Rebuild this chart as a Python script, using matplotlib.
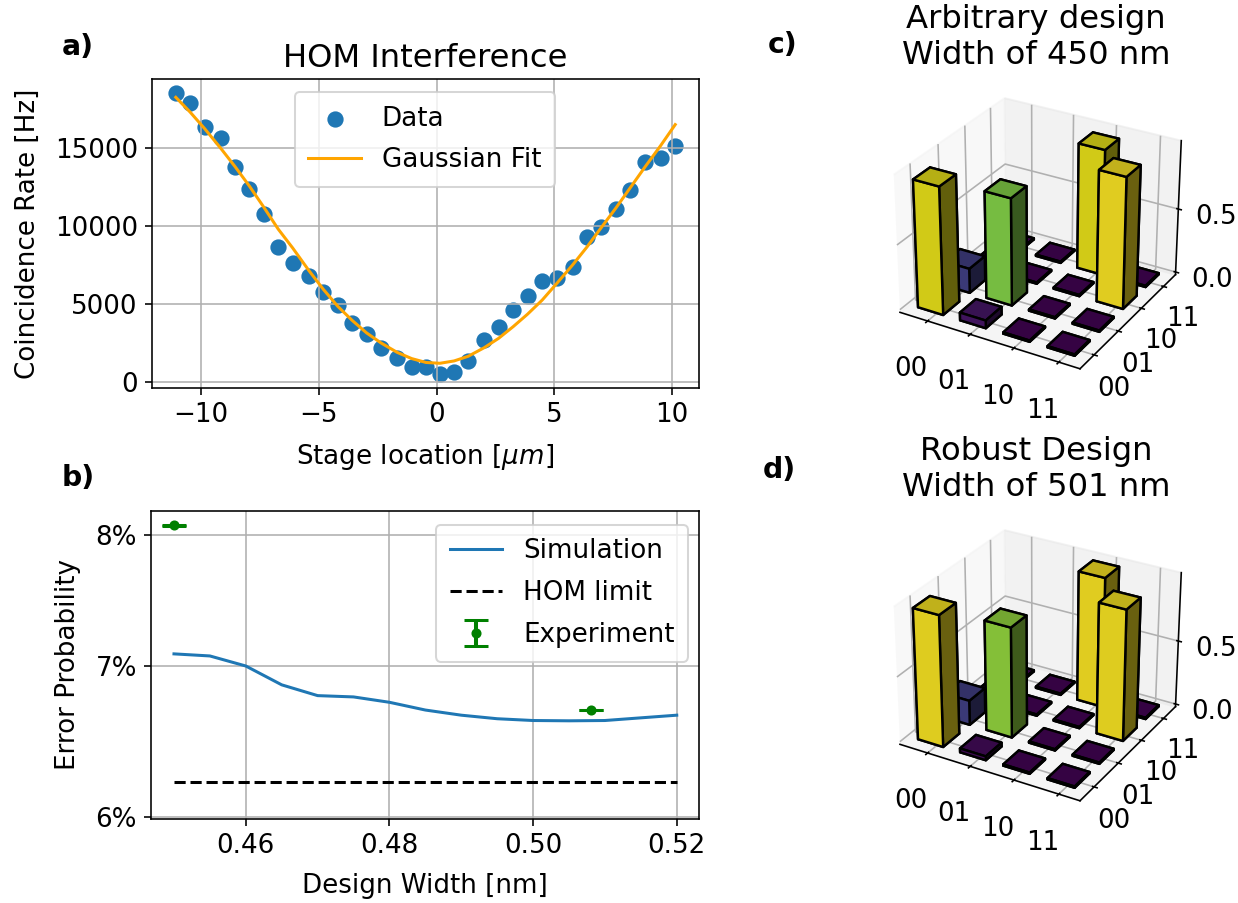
import numpy as np
import matplotlib
matplotlib.use('Agg')
import matplotlib.pyplot as plt

# HOM scan: stage location, measured rate and the fit through it
stage = [-11.08, -10.47, -9.86, -9.18, -8.56, -7.95, -7.34, -6.73, -6.12, -5.43, -4.82, -4.2,
         -3.59, -2.98, -2.36, -1.68, -1.06, -0.45, 0.14, 0.74, 1.34, 2.02, 2.63, 3.25, 3.86,
         4.48, 5.09, 5.77, 6.38, 6.99, 7.61, 8.22, 8.83, 9.51, 10.13]
rate = [18504, 17906, 16367, 15620, 13782, 12350, 10790, 8632, 7607, 6773, 5769, 4936,
        3782, 3077, 2158, 1538, 940, 940, 513, 620, 1325, 2692, 3504, 4615, 5534,
        6496, 6688, 7372, 9273, 9957, 11090, 12329, 14081, 14380, 15107]
fit = [18250, 17300, 16250, 15000, 13800, 12550, 11200, 9800, 8600, 7150, 5950, 4850,
       3950, 3150, 2500, 1900, 1500, 1250, 1200, 1350, 1650, 2200, 2800, 3550, 4350,
       5250, 6300, 7500, 8650, 9900, 11150, 12450, 13750, 15150, 16500]

# Error probability against design width
width = [0.45, 0.455, 0.46, 0.465, 0.47, 0.475, 0.48, 0.485, 0.49, 0.495, 0.50, 0.505, 0.51, 0.515, 0.52]
sim_error = [0.07087, 0.07072, 0.0700, 0.06867, 0.06792, 0.06783, 0.06746, 0.06693, 0.06658,
             0.06634, 0.06622, 0.0662, 0.06622, 0.0664, 0.06658]
hom_limit = [0.0622] * len(width)
exp_width = [0.45, 0.508]
exp_error = [0.08077, 0.06693]
exp_yerr = [0.00001, 0.00001]

# Truth tables, rows are the input state, columns the output state
states = ['00', '01', '10', '11']
table_c = [[0.97, 0.19, 0.01, 0.01],
           [0.06, 0.82, 0.01, 0.01],
           [0.01, 0.01, 0.01, 0.97],
           [0.01, 0.01, 1.0, 0.01]]
table_d = [[0.995, 0.19, 0.01, 0.01],
           [0.03, 0.84, 0.01, 0.01],
           [0.01, 0.01, 0.01, 1.0],
           [0.01, 0.01, 0.995, 0.01]]

W = 1238
H = 903
DPI = 145
BAR = 0.6


def pxAxes(left, top, right, bottom, **kwargs):
    return fig.add_axes([left / W, 1 - bottom / H, (right - left) / W, (bottom - top) / H], **kwargs)


def drawTable(ax, table, title):
    vals = np.array(table)
    xs, ys = np.meshgrid(np.arange(4), np.arange(4), indexing='ij')
    xs = xs.ravel()
    ys = ys.ravel()
    zs = vals.ravel()
    colors = plt.cm.viridis(zs)
    ax.bar3d(xs, ys, np.zeros_like(zs), BAR, BAR, zs, color=colors, edgecolor='black', linewidth=1.2)
    ax.view_init(elev=28.5, azim=-60)
    ax.set_xticks(np.arange(4) + BAR / 2 + 0.1)
    ax.set_xticklabels(states, va='top')
    ax.set_yticks(np.arange(4) + BAR / 2)
    ax.set_yticklabels(states)
    ax.set_zticks([0, 0.5])
    ax.tick_params(labelsize=13)
    # the labels sit at different distances from each axis
    ax.tick_params(axis='x', pad=4.5)
    ax.tick_params(axis='y', pad=1)
    ax.tick_params(axis='z', pad=3.5)
    ax.set_title(title, fontsize=16, pad=2)


fig = plt.figure(figsize=(W / DPI, H / DPI), dpi=DPI)

# a) HOM dip
ax = pxAxes(152, 79, 699, 388)
ax.scatter(stage, rate, label='Data', s=50)
ax.plot(stage, fit, color='orange', label='Gaussian Fit')
ax.set_xlim(-12.09, 11.14)
ax.set_ylim(-385, 19423)
ax.set_title('HOM Interference', fontsize=16, pad=6)
ax.set_xlabel('Stage location [$\\mu m$]', fontsize=13, labelpad=7)
ax.set_ylabel('Coincidence Rate [Hz]', fontsize=13, labelpad=7)
ax.tick_params(labelsize=13)
ax.grid(True)
ax.legend(loc='upper left', bbox_to_anchor=(0.261, 0.958), borderaxespad=0, fontsize=13,
          labelspacing=0.6, borderpad=0.52)

# b) error probability, log y axis
ax = pxAxes(151, 511, 699, 819)
ax.plot(width, sim_error, label='Simulation')
ax.plot(width, hom_limit, 'k--', label='HOM limit')
ax.errorbar(exp_width, exp_error, yerr=exp_yerr, fmt='.', color='green', markersize=8,
            capsize=6, elinewidth=2, capthick=1.5, label='Experiment')
ax.set_yscale('log')
ax.set_xlim(0.4468, 0.5231)
ax.set_ylim(0.0599, 0.08197)
ax.set_xticks([0.46, 0.48, 0.50, 0.52])
ax.set_yticks([0.06, 0.07, 0.08])
ax.set_yticklabels(['6%', '7%', '8%'])
ax.minorticks_off()
ax.set_xlabel('Design Width [nm]', fontsize=13, labelpad=7)
ax.set_ylabel('Error Probability', fontsize=13, labelpad=7)
ax.tick_params(labelsize=13)
ax.grid(True)
ax.legend(loc='upper left', bbox_to_anchor=(0.52, 0.955), borderaxespad=0, fontsize=13,
          labelspacing=0.6, borderpad=0.52)

# c) and d) truth tables
ax = pxAxes(876, 71, 1196, 391, projection='3d')
drawTable(ax, table_c, 'Arbitrary design\nWidth of 450 nm')
ax = pxAxes(876, 503, 1196, 823, projection='3d')
drawTable(ax, table_d, 'Robust Design\nWidth of 501 nm')

fig.text(62 / W, 1 - 47 / H, 'a)', fontsize=14, fontweight='bold', va='center')
fig.text(62 / W, 1 - 478 / H, 'b)', fontsize=14, fontweight='bold', va='center')
fig.text(768 / W, 1 - 45 / H, 'c)', fontsize=14, fontweight='bold', va='center')
fig.text(763 / W, 1 - 470 / H, 'd)', fontsize=14, fontweight='bold', va='center')

fig.savefig('out.png', dpi=DPI)
